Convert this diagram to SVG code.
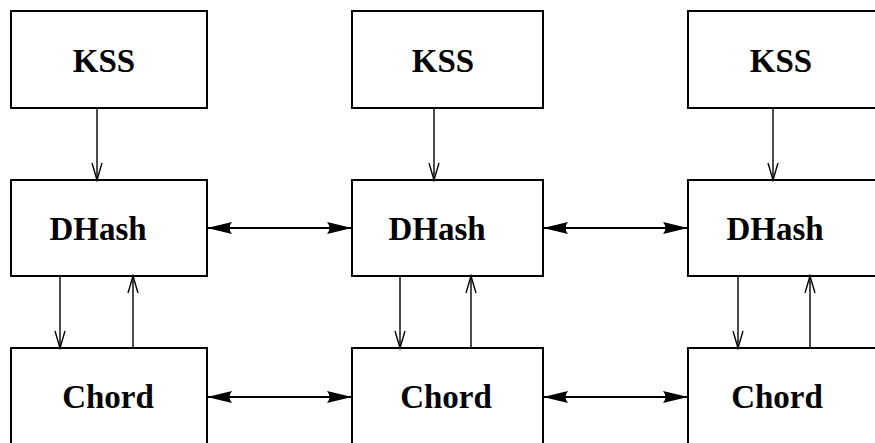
<svg xmlns="http://www.w3.org/2000/svg" width="875" height="443" viewBox="0 0 875 443">
<style>
.box{fill:#fff;stroke:#000;stroke-width:2}
.lbl{font-family:"Liberation Serif","Times New Roman",serif;font-weight:bold;font-size:33px;text-anchor:middle;fill:#000}
.v{stroke:#000;stroke-width:1.4;fill:none;marker-end:url(#open)}
.h{stroke:#000;stroke-width:2;fill:none;marker-start:url(#barb);marker-end:url(#barb)}
</style>
<defs>
<marker id="open" markerUnits="userSpaceOnUse" viewBox="-18 -6 20 12" refX="0" refY="0" markerWidth="20" markerHeight="12" orient="auto" overflow="visible">
<path d="M-17,-5 L0,0 L-17,5" fill="none" stroke="#000" stroke-width="1.4"/>
</marker>
<marker id="barb" markerUnits="userSpaceOnUse" viewBox="-26 -7 27 14" refX="0" refY="0" markerWidth="27" markerHeight="14" orient="auto-start-reverse" overflow="visible">
<path d="M0,0 L-25,-6 Q-20,0 -25,6 Z" fill="#000"/>
</marker>
</defs>
<g id="kss1"><rect class="box" x="11" y="11" width="196" height="97"/><text class="lbl" x="104" y="72">KSS</text></g>
<g id="kss2"><rect class="box" x="352" y="11" width="191" height="97"/><text class="lbl" x="443" y="72">KSS</text></g>
<g id="kss3"><rect class="box" x="688" y="11" width="200" height="97"/><text class="lbl" x="781" y="72">KSS</text></g>
<g id="dhash1"><rect class="box" x="11" y="180" width="196" height="96"/><text class="lbl" x="98" y="240">DHash</text></g>
<g id="dhash2"><rect class="box" x="352" y="180" width="191" height="96"/><text class="lbl" x="437" y="240">DHash</text></g>
<g id="dhash3"><rect class="box" x="688" y="180" width="200" height="96"/><text class="lbl" x="775" y="240">DHash</text></g>
<g id="chord1"><rect class="box" x="11" y="348" width="196" height="120"/><text class="lbl" x="108" y="408">Chord</text></g>
<g id="chord2"><rect class="box" x="352" y="348" width="191" height="120"/><text class="lbl" x="446" y="408">Chord</text></g>
<g id="chord3"><rect class="box" x="688" y="348" width="200" height="120"/><text class="lbl" x="777" y="408">Chord</text></g>
<g id="connectors">
<line class="v" x1="97" y1="108" x2="97" y2="180"/>
<line class="v" x1="434" y1="108" x2="434" y2="180"/>
<line class="v" x1="773" y1="108" x2="773" y2="180"/>
<line class="v" x1="60" y1="276" x2="60" y2="348"/>
<line class="v" x1="133" y1="348" x2="133" y2="276"/>
<line class="v" x1="400" y1="276" x2="400" y2="348"/>
<line class="v" x1="471" y1="348" x2="471" y2="276"/>
<line class="v" x1="738" y1="276" x2="738" y2="348"/>
<line class="v" x1="810" y1="348" x2="810" y2="276"/>
<line class="h" x1="207" y1="228" x2="352" y2="228"/>
<line class="h" x1="543" y1="228" x2="688" y2="228"/>
<line class="h" x1="207" y1="397" x2="352" y2="397"/>
<line class="h" x1="543" y1="397" x2="688" y2="397"/>
</g>
</svg>
